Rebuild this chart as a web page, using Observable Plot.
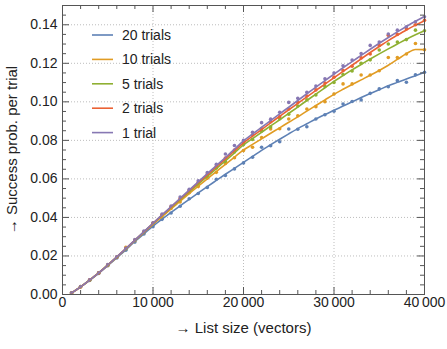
<!DOCTYPE html>
<html>
<head>
<meta charset="utf-8">
<script src="https://cdn.jsdelivr.net/npm/d3@7"></script>
<script src="https://cdn.jsdelivr.net/npm/@observablehq/plot@0.6"></script>
<style>
  html, body { margin: 0; padding: 0; background: #fff; }
  #chart { position: relative; width: 447px; height: 349px; }
</style>
</head>
<body>
<div id="chart"></div>
<script>
const listSize = [1000,2000,3000,4000,5000,6000,7000,8000,9000,10000,
  11000,12000,13000,14000,15000,16000,17000,18000,19000,20000,
  21000,22000,23000,24000,25000,26000,27000,28000,29000,30000,
  31000,32000,33000,34000,35000,36000,37000,38000,39000,40000];

const seriesNames = ["20 trials", "10 trials", "5 trials", "2 trials", "1 trial"];
const seriesColors = ["#5E81B5", "#E19C24", "#8FB032", "#EB6235", "#8778B3"];

// measured success probability per trial (dots)
const dots20 = [.0008,.0040,.0073,.0109,.0149,.0190,.0230,.0272,.0314,.0352,
  .0390,.0423,.0458,.0497,.0524,.0556,.0598,.0618,.0652,.0683,
  .0712,.0764,.0772,.0793,.0859,.0858,.0871,.0911,.0933,.0951,
  .0989,.1002,.1010,.1044,.1067,.1078,.1110,.1102,.1140,.1153];
const dots10 = [.0008,.0039,.0075,.0111,.0151,.0193,.0245,.0279,.0320,.0366,
  .0400,.0447,.0480,.0528,.0560,.0604,.0634,.0680,.0710,.0747,
  .0764,.0815,.0859,.0860,.0911,.0928,.0963,.0975,.1001,.1041,
  .1093,.1093,.1139,.1139,.1161,.1230,.1230,.1248,.1303,.1270];
const dots5 = [.0008,.0041,.0074,.0113,.0152,.0195,.0236,.0283,.0324,.0369,
  .0411,.0453,.0490,.0536,.0575,.0610,.0657,.0690,.0740,.0778,
  .0805,.0848,.0870,.0912,.0936,.0978,.1010,.1036,.1080,.1100,
  .1142,.1160,.1200,.1218,.1269,.1300,.1310,.1323,.1372,.1369];
const dots2 = [.0008,.0040,.0076,.0112,.0154,.0194,.0239,.0283,.0326,.0370,
  .0414,.0456,.0498,.0541,.0582,.0625,.0667,.0708,.0750,.0790,
  .0828,.0860,.0897,.0922,.0963,.0996,.1030,.1062,.1098,.1128,
  .1162,.1185,.1228,.1248,.1292,.1345,.1350,.1378,.1400,.1423];
const dots1 = [.0009,.0041,.0076,.0113,.0155,.0196,.0240,.0285,.0329,.0372,
  .0418,.0459,.0506,.0546,.0590,.0633,.0676,.0729,.0773,.0800,
  .0842,.0892,.0910,.0946,.0997,.1018,.1050,.1082,.1120,.1150,
  .1187,.1217,.1251,.1293,.1310,.1352,.1372,.1390,.1416,.1441];

// fitted curves
const fit20 = [.0008,.0040,.0074,.0110,.0150,.0191,.0232,.0275,.0315,.0355,
  .0391,.0426,.0460,.0494,.0527,.0560,.0592,.0624,.0655,.0686,
  .0717,.0748,.0777,.0806,.0834,.0861,.0886,.0911,.0934,.0956,
  .0978,.1000,.1022,.1043,.1063,.1083,.1101,.1119,.1136,.1153];
const fit10 = [.0008,.0040,.0075,.0112,.0152,.0194,.0236,.0280,.0322,.0364,
  .0404,.0444,.0484,.0524,.0562,.0600,.0638,.0676,.0713,.0750,
  .0779,.0808,.0837,.0865,.0894,.0922,.0952,.0981,.1010,.1039,
  .1065,.1090,.1114,.1138,.1163,.1190,.1220,.1250,.1272,.1271];
const fit5 = [.0008,.0040,.0075,.0112,.0153,.0194,.0237,.0281,.0325,.0368,
  .0410,.0451,.0492,.0533,.0573,.0613,.0653,.0694,.0735,.0776,
  .0809,.0842,.0875,.0907,.0940,.0973,.1007,.1040,.1073,.1106,
  .1136,.1166,.1194,.1222,.1249,.1275,.1300,.1325,.1348,.1369];
const fit2 = [.0008,.0040,.0075,.0112,.0153,.0195,.0238,.0282,.0325,.0369,
  .0412,.0454,.0496,.0538,.0580,.0621,.0663,.0704,.0746,.0787,
  .0822,.0856,.0891,.0925,.0959,.0992,.1026,.1059,.1092,.1125,
  .1158,.1190,.1223,.1256,.1287,.1318,.1346,.1373,.1398,.1421];
const fit1 = [.0008,.0040,.0075,.0112,.0153,.0195,.0238,.0282,.0326,.0370,
  .0413,.0456,.0499,.0542,.0585,.0627,.0669,.0711,.0754,.0797,
  .0833,.0868,.0903,.0938,.0972,.1007,.1042,.1076,.1110,.1144,
  .1177,.1209,.1241,.1273,.1304,.1334,.1363,.1391,.1418,.1443];

const xMajorTicks = [0, 10000, 20000, 30000, 40000];
const xMinorTicks = [2000,4000,6000,8000,12000,14000,16000,18000,22000,24000,26000,28000,32000,34000,36000,38000];
const xGrid = [10000, 20000, 30000];
const yMajorTicks = [0, 0.02, 0.04, 0.06, 0.08, 0.10, 0.12, 0.14];
const yMinorTicks = [0.005,0.01,0.015,0.025,0.03,0.035,0.045,0.05,0.055,0.065,0.07,0.075,0.085,0.09,0.095,0.105,0.11,0.115,0.125,0.13,0.135,0.145];
const yGrid = [0.02, 0.04, 0.06, 0.08, 0.10, 0.12, 0.14];

const xLabel = "→ List size (vectors)";
const yLabel = "→ Success prob. per trial";

const dotSets = [dots20, dots10, dots5, dots2, dots1];
const fitSets = [fit20, fit10, fit5, fit2, fit1];
const dotRows = [], fitRows = [];
seriesNames.forEach((s, k) => {
  listSize.forEach((x, i) => {
    dotRows.push({x, y: dotSets[k][i], series: s});
    fitRows.push({x, y: fitSets[k][i], series: s});
  });
});

const thin = d3.formatLocale({decimal: ".", thousands: "\u2009", grouping: [3]}).format(",");

const W = 447, H = 349, mL = 62, mR = 23, mT = 5, mB = 55;
const fw = W - mL - mR, fh = H - mT - mB;
const frameColor = "#555";
const gridStyle = {stroke: "#bdbdbd", strokeOpacity: 1, strokeDasharray: "1,2"};

const chart = Plot.plot({
  width: W, height: H,
  marginLeft: mL, marginRight: mR, marginTop: mT, marginBottom: mB,
  style: {fontFamily: "'Liberation Sans', Arial, sans-serif", fontSize: "14px", color: "#222", background: "#fff"},
  x: {domain: [0, 40000], label: null},
  y: {domain: [0, 0.15], label: null},
  color: {domain: seriesNames, range: seriesColors},
  marks: [
    Plot.gridX(xGrid, gridStyle),
    Plot.gridY(yGrid, gridStyle),
    Plot.dot(dotRows, {x: "x", y: "y", fill: "series", r: 1.8}),
    Plot.line(fitRows, {x: "x", y: "y", z: "series", stroke: "series", strokeWidth: 1.6, curve: "monotone-x"}),
    Plot.frame({stroke: frameColor, strokeWidth: 1}),
    // inward ticks on all four sides
    Plot.tickX(xMajorTicks, {x: d => d, insetTop: fh - 7, stroke: frameColor}),
    Plot.tickX(xMajorTicks, {x: d => d, insetBottom: fh - 7, stroke: frameColor}),
    Plot.tickX(xMinorTicks, {x: d => d, insetTop: fh - 4, stroke: frameColor}),
    Plot.tickX(xMinorTicks, {x: d => d, insetBottom: fh - 4, stroke: frameColor}),
    Plot.tickY(yMajorTicks, {y: d => d, insetRight: fw - 7, stroke: frameColor}),
    Plot.tickY(yMajorTicks, {y: d => d, insetLeft: fw - 7, stroke: frameColor}),
    Plot.tickY(yMinorTicks, {y: d => d, insetRight: fw - 4, stroke: frameColor}),
    Plot.tickY(yMinorTicks, {y: d => d, insetLeft: fw - 4, stroke: frameColor}),
    Plot.axisX(xMajorTicks, {tickSize: 0, tickPadding: 3, tickFormat: d => d === 0 ? "0" : thin(d), label: null}),
    Plot.axisY(yMajorTicks, {tickSize: 0, tickPadding: 5, tickFormat: d3.format(".2f"), label: null}),
    Plot.text([xLabel], {frameAnchor: "bottom", dy: 34, textAnchor: "middle", lineAnchor: "middle", fontSize: 15, fill: "#222"}),
    Plot.text([yLabel], {frameAnchor: "left", dx: -50, rotate: -90, textAnchor: "middle", lineAnchor: "middle", fontSize: 15, fill: "#222"})
  ]
});

// legend inside the frame, upper left
const svg = d3.select(chart);
const lg = svg.append("g")
  .attr("font-family", "'Liberation Sans', Arial, sans-serif")
  .attr("font-size", 14)
  .attr("text-anchor", "start");
seriesNames.forEach((s, i) => {
  const cy = 35 + i * 24.4;
  lg.append("line").attr("x1", 92).attr("x2", 113).attr("y1", cy).attr("y2", cy)
    .attr("stroke", seriesColors[i]).attr("stroke-width", 1.6);
  lg.append("text").attr("x", 122).attr("y", cy).attr("dy", "0.35em")
    .attr("text-anchor", "start").attr("fill", "#222").text(s);
});

document.getElementById("chart").appendChild(chart);
</script>
</body>
</html>
